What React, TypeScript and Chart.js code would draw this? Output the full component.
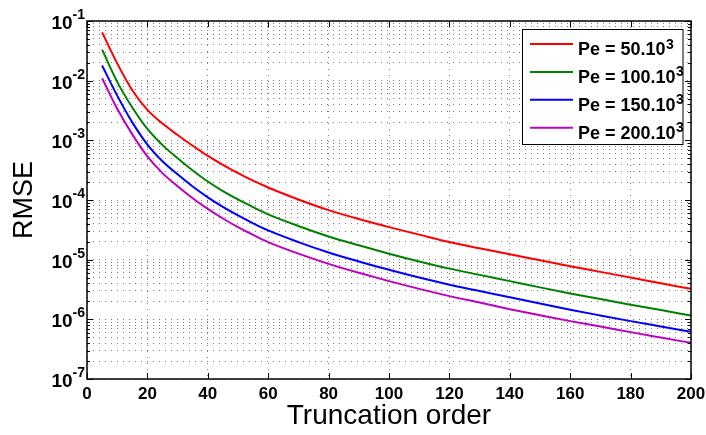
import React, { useEffect, useRef } from "react";
import { Chart, registerables } from "chart.js";

Chart.register(...registerables);

const truncationOrder = [5, 10, 15, 20, 25, 30, 35, 40, 45, 50, 55, 60, 70, 80, 90, 100, 110, 120, 130, 140, 150, 160, 170, 180, 190, 200];
const pe50 = [0.0646, 0.0195, 6.92e-3, 3.24e-3, 1.91e-3, 1.23e-3, 8.13e-4, 5.5e-4, 3.89e-4, 2.82e-4, 2.11e-4, 1.62e-4, 1.02e-4, 6.76e-5, 4.79e-5, 3.51e-5, 2.63e-5, 1.97e-5, 1.55e-5, 1.23e-5, 9.77e-6, 7.76e-6, 6.24e-6, 5.01e-6, 4.03e-6, 3.24e-6];
const pe100 = [0.0331, 9.55e-3, 3.55e-3, 1.55e-3, 8.32e-4, 5.01e-4, 3.13e-4, 2.04e-4, 1.41e-4, 1.02e-4, 7.59e-5, 5.75e-5, 3.67e-5, 2.45e-5, 1.74e-5, 1.26e-5, 9.33e-6, 7.08e-6, 5.56e-6, 4.37e-6, 3.43e-6, 2.72e-6, 2.19e-6, 1.76e-6, 1.43e-6, 1.16e-6];
const pe150 = [0.018, 5.62e-3, 2.0e-3, 8.51e-4, 4.47e-4, 2.69e-4, 1.68e-4, 1.11e-4, 7.67e-5, 5.5e-5, 4.07e-5, 3.09e-5, 1.97e-5, 1.32e-5, 9.33e-6, 6.76e-6, 5.01e-6, 3.8e-6, 2.99e-6, 2.34e-6, 1.84e-6, 1.45e-6, 1.16e-6, 9.33e-7, 7.59e-7, 6.17e-7];
const pe200 = [0.01096, 3.39e-3, 1.26e-3, 5.37e-4, 2.82e-4, 1.7e-4, 1.07e-4, 7.08e-5, 4.9e-5, 3.51e-5, 2.6e-5, 1.97e-5, 1.26e-5, 8.51e-6, 6.03e-6, 4.37e-6, 3.24e-6, 2.45e-6, 1.91e-6, 1.48e-6, 1.17e-6, 9.33e-7, 7.59e-7, 6.1e-7, 4.95e-7, 4.03e-7];

const seriesLabels = ["Pe = 50.10", "Pe = 100.10", "Pe = 150.10", "Pe = 200.10"];
const seriesSup = "3";
const seriesColors = ["#ff0000", "#008000", "#0000ff", "#bf00bf"];
const xTicks = [0, 20, 40, 60, 80, 100, 120, 140, 160, 180, 200];
const yExponents = [-1, -2, -3, -4, -5, -6, -7];

const FONT = "'Liberation Sans', Arial, Helvetica, sans-serif";

const framePlugin = {
  id: "frame",
  afterDraw(chart: any) {
    const ctx = chart.ctx;
    const { left, right, top, bottom } = chart.chartArea;
    const xs = chart.scales.x;
    const ys = chart.scales.y;
    ctx.save();
    ctx.strokeStyle = "#000";
    ctx.lineWidth = 1.5;
    ctx.setLineDash([]);
    ctx.strokeRect(left, top, right - left, bottom - top);
    ctx.lineWidth = 1;
    ctx.beginPath();
    for (const v of xTicks) {
      const px = Math.round(xs.getPixelForValue(v)) + 0.5;
      ctx.moveTo(px, bottom);
      ctx.lineTo(px, bottom - 6);
      ctx.moveTo(px, top);
      ctx.lineTo(px, top + 6);
    }
    for (let e = -7; e <= -1; e++) {
      for (let m = 1; m <= 9; m++) {
        if (e === -1 && m > 1) break;
        const v = m * Math.pow(10, e);
        const py = Math.round(ys.getPixelForValue(v)) + 0.5;
        const len = m === 1 ? 6 : 3;
        ctx.moveTo(left, py);
        ctx.lineTo(left + len, py);
        ctx.moveTo(right, py);
        ctx.lineTo(right - len, py);
      }
    }
    ctx.stroke();

    ctx.fillStyle = "#000";
    ctx.textBaseline = "alphabetic";
    ctx.textAlign = "left";
    for (const e of yExponents) {
      const py = ys.getPixelForValue(Math.pow(10, e));
      const expText = "-" + String(-e);
      ctx.font = `bold 14px ${FONT}`;
      const we = ctx.measureText(expText).width;
      ctx.font = `bold 19px ${FONT}`;
      const wb = ctx.measureText("10").width;
      const xe = left - 2 - we;
      ctx.fillText("10", xe - wb, py + 8);
      ctx.font = `bold 14px ${FONT}`;
      ctx.fillText(expText, xe, py - 2);
    }

    const bx = 522.5, by = 29.5, bw = 160.5, bh = 115;
    ctx.fillStyle = "#fff";
    ctx.fillRect(bx, by, bw, bh);
    ctx.strokeStyle = "#000";
    ctx.lineWidth = 1;
    ctx.strokeRect(bx, by, bw, bh);
    seriesLabels.forEach((lab, i) => {
      const ry = 44 + i * 27.9;
      ctx.strokeStyle = seriesColors[i];
      ctx.lineWidth = 2;
      ctx.beginPath();
      ctx.moveTo(530, ry);
      ctx.lineTo(573, ry);
      ctx.stroke();
      ctx.fillStyle = "#000";
      ctx.font = `bold 18px ${FONT}`;
      ctx.fillText(lab, 578, ry + 11);
      const w = ctx.measureText(lab).width;
      ctx.font = `bold 14px ${FONT}`;
      ctx.fillText(seriesSup, 578 + w + 0.5, ry + 4.5);
    });
    ctx.restore();
  },
};

export default function App() {
  const ref = useRef<HTMLCanvasElement | null>(null);
  useEffect(() => {
    if (!ref.current) return;
    const series = [pe50, pe100, pe150, pe200];
    const chart = new Chart(ref.current, {
      type: "line",
      data: {
        datasets: series.map((vals, i) => ({
          label: seriesLabels[i] + seriesSup,
          data: truncationOrder.map((x, j) => ({ x, y: vals[j] })),
          borderColor: seriesColors[i],
          backgroundColor: seriesColors[i],
          borderWidth: 2,
          pointRadius: 0,
          cubicInterpolationMode: "monotone" as const,
          fill: false,
        })),
      },
      options: {
        responsive: false,
        animation: false,
        layout: { padding: { top: 21, right: 15, left: 0, bottom: 0 } },
        plugins: { legend: { display: false }, tooltip: { enabled: false } },
        scales: {
          x: {
            type: "linear",
            min: 0,
            max: 200,
            afterBuildTicks: (scale: any) => {
              scale.ticks = xTicks.map((v) => ({ value: v }));
            },
            afterFit: (scale: any) => {
              scale.height = 56;
              scale.paddingLeft = 0;
              scale.paddingRight = 0;
            },
            ticks: {
              color: "#000",
              font: { family: FONT, size: 17, weight: "bold" },
              padding: 5,
              maxRotation: 0,
              autoSkip: false,
            },
            grid: {
              color: "rgba(0,0,0,0.5)",
              lineWidth: 1,
              drawTicks: false,
            },
            border: { display: false, dash: [1, 5] },
            title: {
              display: true,
              text: "Truncation order",
              color: "#000",
              font: { family: FONT, size: 28, weight: "normal" },
              padding: { top: 0, bottom: 2 },
            },
          },
          y: {
            type: "logarithmic",
            min: 1e-7,
            max: 1e-1,
            afterBuildTicks: (scale: any) => {
              const t: any[] = [];
              for (let e = -7; e <= -1; e++) {
                for (let m = 1; m <= 9; m++) {
                  if (e === -1 && m > 1) break;
                  t.push({ value: m * Math.pow(10, e) });
                }
              }
              scale.ticks = t;
            },
            afterFit: (scale: any) => {
              scale.width = 87;
              scale.paddingTop = 0;
              scale.paddingBottom = 0;
            },
            ticks: { display: false },
            grid: {
              color: "rgba(0,0,0,0.5)",
              lineWidth: 1,
              drawTicks: false,
            },
            border: { display: false, dash: [1, 5] },
            title: {
              display: true,
              text: "RMSE",
              color: "#000",
              font: { family: FONT, size: 27, weight: "normal" },
              padding: { top: 8, bottom: 0 },
            },
          },
        },
      },
      plugins: [framePlugin],
    });
    return () => chart.destroy();
  }, []);
  return (
    <div style={{ position: "absolute", left: 0, top: 0, width: 706, height: 435, background: "#fff" }}>
      <canvas ref={ref} width={706} height={435} style={{ display: "block" }} />
    </div>
  );
}
